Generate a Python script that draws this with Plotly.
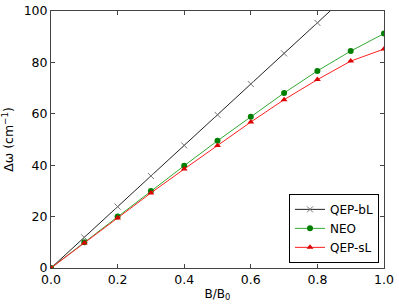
import plotly.graph_objects as go

x = [0.0, 0.1, 0.2, 0.3, 0.4, 0.5, 0.6, 0.7, 0.8, 0.9, 1.0]
qep_bl = [0.0, 11.9, 23.9, 35.8, 47.7, 59.6, 71.6, 83.5, 95.4, 107.3, 119.3]
neo = [0.0, 10.0, 20.0, 30.0, 39.8, 49.5, 58.9, 68.1, 76.7, 84.4, 91.2]
qep_sl = [0.0, 9.7, 19.5, 29.2, 38.5, 47.7, 56.8, 65.5, 73.3, 80.5, 85.2]

fig = go.Figure()
fig.add_trace(go.Scatter(x=x, y=qep_bl, name="QEP-bL", mode="lines+markers",
                         line=dict(color="#222222", width=1),
                         marker=dict(symbol="x-thin", size=6, color="#888888",
                                     line=dict(color="#777777", width=1))))
fig.add_trace(go.Scatter(x=x, y=neo, name="NEO", mode="lines+markers",
                         line=dict(color="#33aa33", width=1),
                         marker=dict(symbol="circle", size=6, color="#007f00")))
fig.add_trace(go.Scatter(x=x, y=qep_sl, name="QEP-sL", mode="lines+markers",
                         line=dict(color="#ff2020", width=1),
                         marker=dict(symbol="triangle-up", size=6, color="#dd0000")))

axis_common = dict(showgrid=False, zeroline=False, showline=True, linecolor="#444444",
                   linewidth=1, mirror="allticks", ticks="inside", ticklen=4,
                   tickcolor="#444444", tickfont=dict(size=12.5, color="#000000"),
                   automargin=False)

fig.update_layout(
    width=399, height=307,
    margin=dict(l=51, r=15, t=11, b=39),
    paper_bgcolor="white", plot_bgcolor="white",
    font=dict(family="DejaVu Sans", size=12, color="#000000"),
    xaxis=dict(range=[0, 1], tickvals=[0, 0.2, 0.4, 0.6, 0.8, 1.0],
               ticktext=["0.0", "0.2", "0.4", "0.6", "0.8", "1.0"],
               title=dict(text="B/B<sub>0</sub>", font=dict(size=12), standoff=3),
               **axis_common),
    yaxis=dict(range=[0, 100], tickvals=[0, 20, 40, 60, 80, 100],
               title=dict(text="Δω (cm<sup>−1</sup>)", font=dict(size=12.5), standoff=9),
               **axis_common),
    legend=dict(x=0.985, y=0.02, xanchor="right", yanchor="bottom",
                bgcolor="white", bordercolor="#000000", borderwidth=1,
                font=dict(size=12), tracegroupgap=0, itemwidth=30),
    showlegend=True,
)

fig.write_html("out.html", config={"displayModeBar": False},
               post_script="document.body.style.margin='0';document.body.style.overflow='hidden';")
